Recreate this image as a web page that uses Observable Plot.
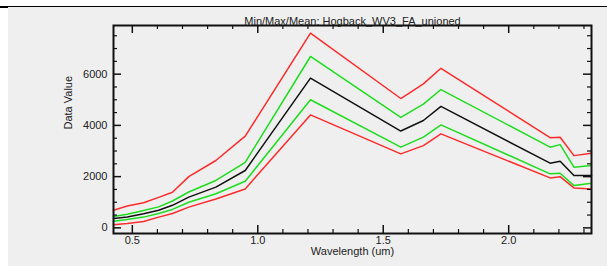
<!DOCTYPE html>
<html><head><meta charset="utf-8">
<script src="https://cdn.jsdelivr.net/npm/d3@7"></script>
<script src="https://cdn.jsdelivr.net/npm/@observablehq/plot@0.6"></script>
<style>
html,body{margin:0;padding:0;background:#fff;width:607px;height:266px;overflow:hidden}
#wrap{position:relative;width:607px;height:266px}
#panel{position:absolute;left:8px;top:7px;right:0;bottom:0;background:#efefef}
#rule{position:absolute;left:0;right:0;top:6px;height:1px;background:#000}
#nub{position:absolute;left:0;width:8px;top:6px;height:2px;background:#000}
#chart{position:absolute;left:0;top:0}
</style></head><body>
<div id="wrap"><div id="panel"></div><div id="rule"></div><div id="nub"></div><div id="chart"></div></div>
<script>
const chartTitle = "Min/Max/Mean: Hogback_WV3_FA_unioned";
const xLabel = "Wavelength (um)";
const yLabel = "Data Value";
const wavelengths = [0.425, 0.480, 0.545, 0.605, 0.660, 0.725, 0.833, 0.950, 1.210, 1.570, 1.660, 1.730, 2.165, 2.205, 2.260, 2.330];
const maxValues   = [690, 850, 980, 1190, 1390, 2000, 2630, 3580, 7600, 5050, 5620, 6230, 3520, 3540, 2820, 2910];
const plusSdValues = [440, 530, 680, 820, 1050, 1400, 1850, 2560, 6690, 4310, 4830, 5400, 3150, 3250, 2370, 2430];
const meanValues  = [370, 420, 550, 690, 880, 1200, 1590, 2240, 5845, 3780, 4190, 4740, 2525, 2600, 2045, 2045];
const minusSdValues = [260, 330, 420, 560, 720, 1000, 1330, 1820, 5000, 3150, 3540, 4020, 2110, 2130, 1650, 1740];
const minValues   = [120, 170, 250, 420, 560, 810, 1130, 1520, 4410, 2890, 3210, 3670, 1950, 2000, 1560, 1520];
const xTickLabels = [0.5, 1.0, 1.5, 2.0];
const xMinorTicks = [0.6,0.7,0.8,0.9,1.1,1.2,1.3,1.4,1.6,1.7,1.8,1.9,2.1,2.2,2.3];
const yTickLabels = [0, 2000, 4000, 6000];
const yMinorTicks = [500,1000,1500,2500,3000,3500,4500,5000,5500,6500,7000,7500];

const W = 607, H = 266, ML = 113, MR = 16, MT = 25, MB = 33;
const pw = W - ML - MR, ph = H - MT - MB;
const red = "#ff2a2a", green = "#1edc1e", black = "#111";
const series = [
  {values: minValues, color: red},
  {values: maxValues, color: red},
  {values: minusSdValues, color: green},
  {values: plusSdValues, color: green},
  {values: meanValues, color: black}
];
const lineMarks = series.map(s =>
  Plot.line(wavelengths.map((w, i) => ({w, v: s.values[i]})), {x: "w", y: "v", stroke: s.color, strokeWidth: 1.5})
);
const axisCol = "#111";
const txt = "#222";
const chart = Plot.plot({
  width: W, height: H,
  marginLeft: ML, marginRight: MR, marginTop: MT, marginBottom: MB,
  style: {background: "transparent", fontFamily: "'Liberation Sans', Arial, sans-serif", fontSize: "11px", color: txt},
  x: {domain: [0.425, 2.33], axis: null},
  y: {domain: [-220, 7900], axis: null},
  marks: [
    ...lineMarks,
    Plot.ruleY(yTickLabels, {y: d => d, stroke: axisCol, strokeWidth: 1.5, insetRight: pw - 8}),
    Plot.ruleY(yTickLabels, {y: d => d, stroke: axisCol, strokeWidth: 1.5, insetLeft: pw - 8}),
    Plot.ruleY(yMinorTicks, {y: d => d, stroke: axisCol, strokeWidth: 1.2, insetRight: pw - 4}),
    Plot.ruleY(yMinorTicks, {y: d => d, stroke: axisCol, strokeWidth: 1.2, insetLeft: pw - 4}),
    Plot.ruleX(xTickLabels, {x: d => d, stroke: axisCol, strokeWidth: 1.5, insetTop: ph - 8}),
    Plot.ruleX(xTickLabels, {x: d => d, stroke: axisCol, strokeWidth: 1.5, insetBottom: ph - 8}),
    Plot.ruleX(xMinorTicks, {x: d => d, stroke: axisCol, strokeWidth: 1.2, insetTop: ph - 4}),
    Plot.ruleX(xMinorTicks, {x: d => d, stroke: axisCol, strokeWidth: 1.2, insetBottom: ph - 4}),
    Plot.frame({stroke: axisCol, strokeWidth: 2}),
    Plot.text(yTickLabels, {y: d => d, text: d => String(d), frameAnchor: "left", textAnchor: "end", dx: -6, fill: txt}),
    Plot.text(xTickLabels, {x: d => d, text: d => d.toFixed(1), frameAnchor: "bottom", dy: 10, fill: txt}),
    Plot.text([xLabel], {text: d => d, frameAnchor: "bottom", dy: 21, fill: txt}),
    Plot.text([yLabel], {text: d => d, frameAnchor: "left", dx: -45, rotate: -90, fill: txt}),
    Plot.text([chartTitle], {text: d => d, frameAnchor: "top", dy: -8, fill: txt})
  ]
});
document.getElementById("chart").appendChild(chart);
</script>
</body></html>
